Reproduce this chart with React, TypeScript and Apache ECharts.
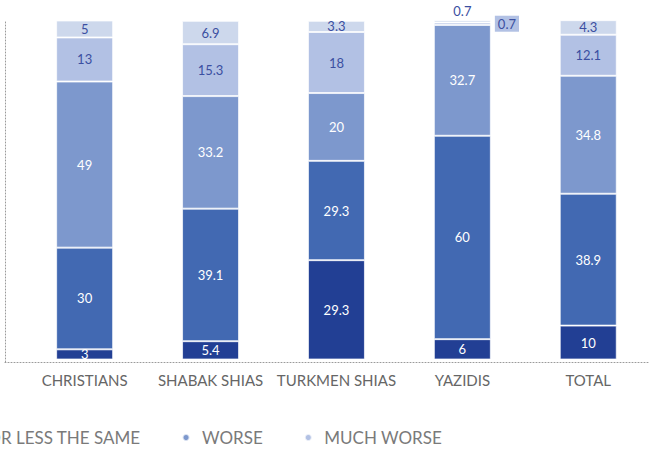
import React, { useEffect, useRef } from "react";
import * as echarts from "echarts";

const categories = ["CHRISTIANS", "SHABAK SHIAS", "TURKMEN SHIAS", "YAZIDIS", "TOTAL"];
const seriesNames = ["BETTER", "MORE OR LESS THE SAME", "WORSE", "MUCH WORSE", "DON'T KNOW"];
const better = [3, 5.4, 29.3, 6, 10];
const same = [30, 39.1, 29.3, 60, 38.9];
const worse = [49, 33.2, 20, 32.7, 34.8];
const muchWorse = [13, 15.3, 18, 0.7, 12.1];
const dontKnow = [5, 6.9, 3.3, 0.7, 4.3];
const legendOrder = ["DON'T KNOW", "BETTER", "MORE OR LESS THE SAME", "WORSE", "MUCH WORSE"];

const colors = ["#223f94", "#4269b2", "#7d98cd", "#b2c1e4", "#cdd8ec"];
const labelColors = ["#ffffff", "#ffffff", "#ffffff", "#3b4fa1", "#3b4fa1"];
const FONT = "Lato, 'Open Sans', sans-serif";

export default function App() {
  const ref = useRef<HTMLDivElement>(null);
  useEffect(() => {
    if (!ref.current) return;
    const chart = echarts.init(ref.current, null, { renderer: "svg" });
    const all = [better, same, worse, muchWorse, dontKnow];
    const series: any[] = all.map((vals, si) => ({
      name: seriesNames[si],
      type: "bar",
      stack: "total",
      xAxisIndex: 0,
      yAxisIndex: 0,
      barWidth: 57,
      clip: false,
      itemStyle: { color: colors[si], borderColor: "rgba(255,255,255,0.7)", borderWidth: 1 },
      label: {
        show: true,
        position: "inside",
        color: labelColors[si],
        fontFamily: FONT,
        fontSize: 13,
      },
      data: vals.map((v, i) => {
        if (i === 3 && si === 3) {
          return {
            value: v,
            label: {
              position: "right",
              distance: 4,
              backgroundColor: colors[3],
              padding: [2, 3, 1, 3],
            },
          };
        }
        if (i === 3 && si === 4) {
          return { value: v, label: { position: "top", distance: 3 } };
        }
        return v;
      }),
    }));
    chart.setOption({
      animation: false,
      backgroundColor: "#ffffff",
      color: colors,
      legend: {
        data: legendOrder,
        right: 217,
        width: 1200,
        top: 429,
        padding: 0,
        icon: "circle",
        itemWidth: 22,
        itemHeight: 7,
        itemGap: 41,
        textStyle: { color: "#7a7a7a", fontFamily: FONT, fontSize: 17 },
      },
      grid: [
        { left: 21.7, right: 7.8, top: 20.5, bottom: 93.5 },
        { left: 5, right: 11, top: 22, bottom: 91 },
      ],
      xAxis: [
        {
          type: "category",
          gridIndex: 0,
          data: categories,
          axisLine: { show: false },
          axisTick: { show: false },
          axisLabel: { color: "#666666", fontFamily: FONT, fontSize: 15, margin: 13, interval: 0 },
        },
        {
          type: "value",
          gridIndex: 1,
          min: 0,
          max: 1,
          axisLine: { show: true, onZero: false, lineStyle: { color: "#9a9a9a", type: [1, 2], width: 1 } },
          axisTick: { show: false },
          axisLabel: { show: false },
          splitLine: { show: false },
        },
      ],
      yAxis: [
        {
          type: "value",
          gridIndex: 0,
          min: 0,
          max: 100,
          show: false,
        },
        {
          type: "value",
          gridIndex: 1,
          min: 0,
          max: 1,
          axisLine: { show: true, onZero: false, lineStyle: { color: "#9a9a9a", type: [1, 2], width: 1 } },
          axisTick: { show: false },
          axisLabel: { show: false },
          splitLine: { show: false },
        },
      ],
      series,
    });
    return () => chart.dispose();
  }, []);
  return <div ref={ref} style={{ width: 659, height: 453, position: "absolute", left: 0, top: 0 }} />;
}
